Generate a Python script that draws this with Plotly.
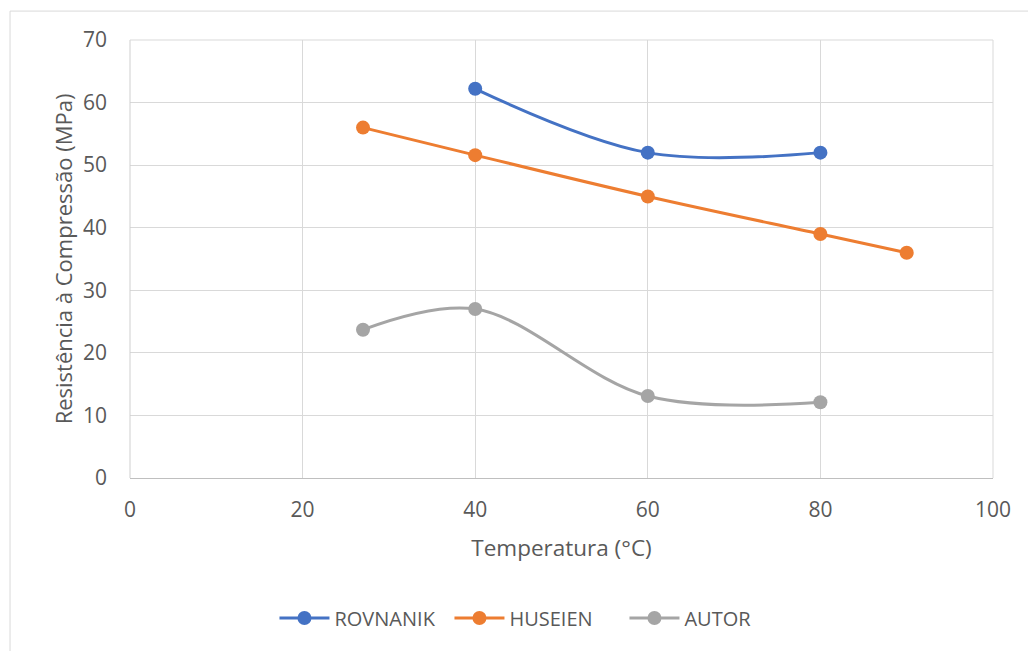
import plotly.graph_objects as go

rov_x = [40, 60, 80]
rov_y = [62.2, 52.0, 52.0]
hus_x = [27, 40, 60, 80, 90]
hus_y = [56.0, 51.6, 45.0, 39.0, 36.0]
aut_x = [27, 40, 60, 80]
aut_y = [23.7, 27.0, 13.1, 12.1]

FONT = "Open Sans"
TXT = "#595959"

fig = go.Figure()
series = [
    ("ROVNANIK", rov_x, rov_y, "#4472C4"),
    ("HUSEIEN", hus_x, hus_y, "#ED7D31"),
    ("AUTOR", aut_x, aut_y, "#A5A5A5"),
]
for name, xs, ys, col in series:
    fig.add_trace(go.Scatter(
        x=xs, y=ys, name=name, mode="lines+markers",
        line=dict(color=col, width=3, shape="spline", smoothing=1.0),
        marker=dict(color=col, size=14),
    ))

fig.update_layout(
    width=1028, height=651,
    margin=dict(l=130, r=35, t=40, b=173, autoexpand=False),
    paper_bgcolor="white", plot_bgcolor="white",
    font=dict(family=FONT, size=20, color=TXT),
    showlegend=True,
    legend=dict(orientation="h", x=0.1674, xanchor="left",
                y=-0.275, yanchor="top",
                font=dict(family=FONT, size=20, color=TXT), itemwidth=50,
                entrywidth=110, entrywidthmode="pixels",
                traceorder="normal"),
    xaxis=dict(range=[0, 100], dtick=20, showgrid=True, gridcolor="#d9d9d9", gridwidth=1,
               zeroline=False, showline=True, linecolor="#bfbfbf", linewidth=1,
               ticks="", ticklabelstandoff=13, tickfont=dict(size=21, color=TXT),
               automargin=False,
               title=dict(text="Temperatura (°C)", font=dict(size=22.5, color=TXT), standoff=18),
               mirror=False),
    yaxis=dict(range=[0, 70], dtick=10, showgrid=True, gridcolor="#d9d9d9", gridwidth=1,
               zeroline=False, showline=False, ticks="", ticklabelstandoff=22,
               tickfont=dict(size=21, color=TXT), automargin=False,
               title=dict(text="Resistência à Compressão (MPa)", font=dict(size=22, color=TXT), standoff=4)),
    shapes=[
        dict(type="rect", xref="paper", yref="paper", x0=-0.139, x1=1.2, y0=-0.6, y1=1.066,
             line=dict(color="#d9d9d9", width=1), fillcolor="rgba(0,0,0,0)", layer="below"),
        dict(type="line", xref="paper", yref="paper", x0=0, x1=0, y0=0, y1=1,
             line=dict(color="#cfcfcf", width=1)),
        dict(type="line", xref="paper", yref="paper", x0=1, x1=1, y0=0, y1=1,
             line=dict(color="#d9d9d9", width=1)),
        dict(type="line", xref="paper", yref="paper", x0=0, x1=1, y0=1, y1=1,
             line=dict(color="#d9d9d9", width=1)),
    ],
)

fig.write_html("out.html")
